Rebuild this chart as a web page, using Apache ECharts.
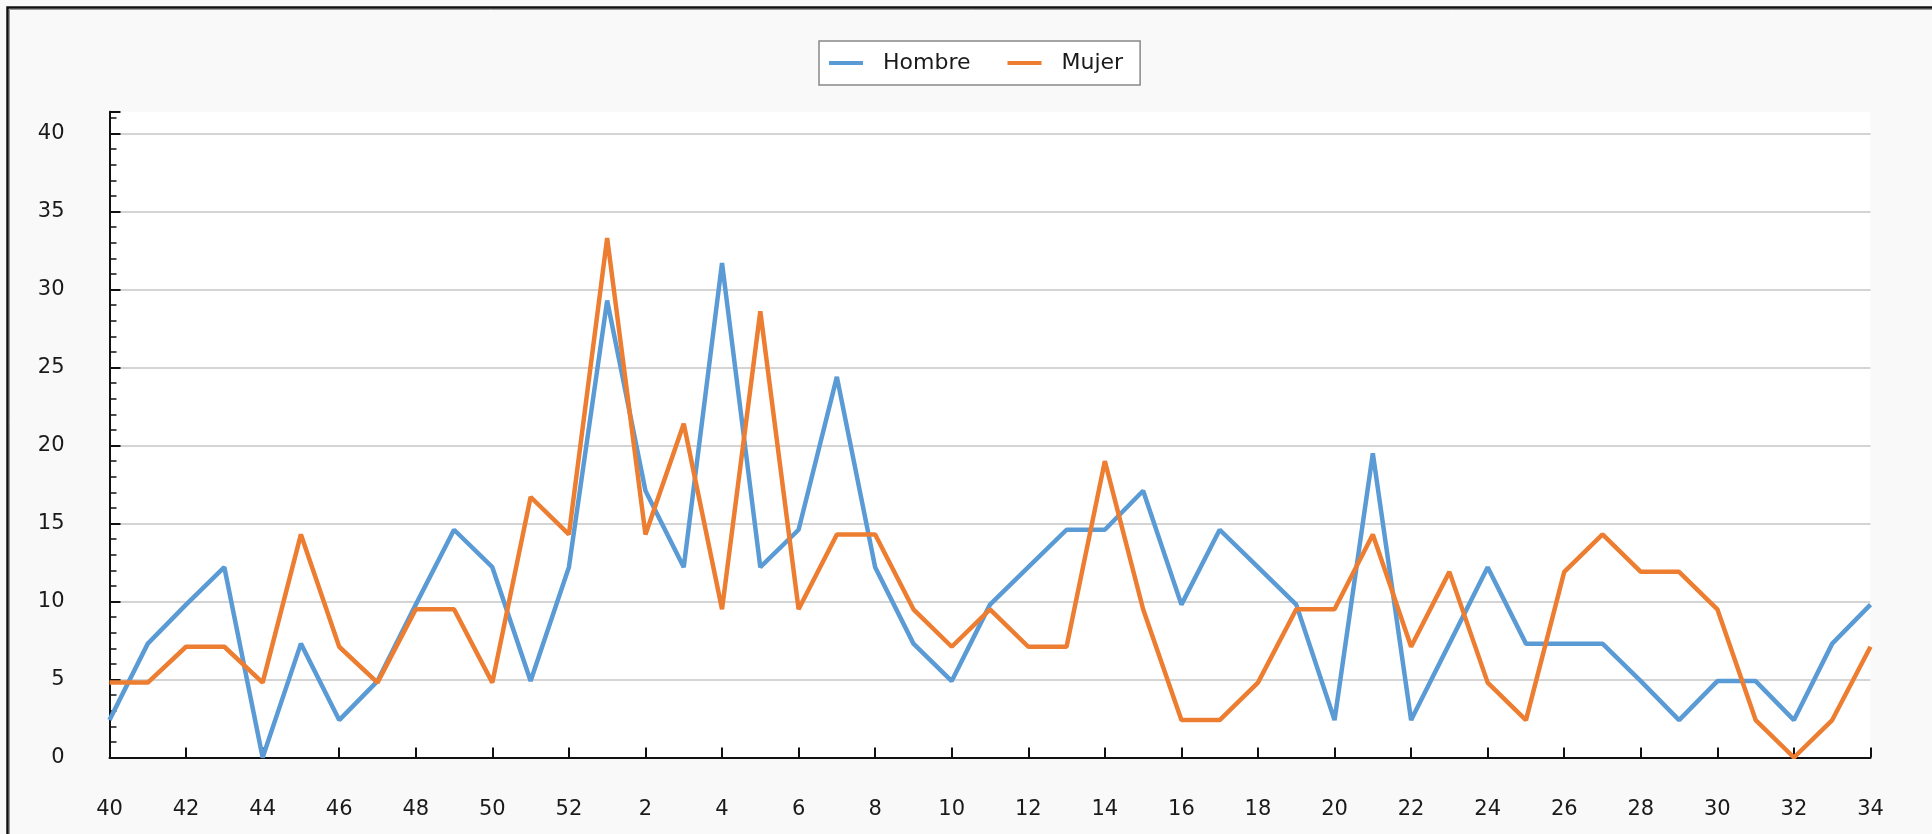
<!DOCTYPE html>
<html>
<head>
<meta charset="utf-8">
<script src="https://cdn.jsdelivr.net/npm/echarts@6/dist/echarts.min.js"></script>
<style>
	html, body { margin: 0; padding: 0; background: #f9f9f9; }
	#ct1 { width: 1932px; height: 834px; }
</style>
</head>
<body>
<div id="ct1"></div>
<script>
// semanas (40..52 del año anterior, 1..34)
var semanas = ['40','41','42','43','44','45','46','47','48','49','50','51','52',
	'1','2','3','4','5','6','7','8','9','10','11','12','13','14','15','16','17',
	'18','19','20','21','22','23','24','25','26','27','28','29','30','31','32','33','34'];

var hombre = [2.4, 7.3, 9.8, 12.2, 0, 7.3, 2.4, 4.9, 9.8, 14.6, 12.2, 4.9, 12.2,
	29.3, 17.1, 12.2, 31.7, 12.2, 14.6, 24.4, 12.2, 7.3, 4.9, 9.8, 12.2, 14.6, 14.6,
	17.1, 9.8, 14.6, 12.2, 9.8, 2.4, 19.5, 2.4, 7.3, 12.2, 7.3, 7.3, 7.3, 4.9, 2.4,
	4.9, 4.9, 2.4, 7.3, 9.8];

var mujer = [4.8, 4.8, 7.1, 7.1, 4.8, 14.3, 7.1, 4.8, 9.5, 9.5, 4.8, 16.7, 14.3,
	33.3, 14.3, 21.4, 9.5, 28.6, 9.5, 14.3, 14.3, 9.5, 7.1, 9.5, 7.1, 7.1, 19.0,
	9.5, 2.4, 2.4, 4.8, 9.5, 9.5, 14.3, 7.1, 11.9, 4.8, 2.4, 11.9, 14.3, 11.9, 11.9,
	9.5, 2.4, 0, 2.4, 7.1];

var fontFam = 'DejaVu Sans';
var myChart1;

var option1 = {
	backgroundColor: '#f9f9f9',
	animation: false,
	textStyle: { fontFamily: fontFam },
	graphic: [{
		type: 'rect',
		shape: { x: 7.5, y: 7.5, width: 2000, height: 1000 },
		style: { fill: 'none', stroke: '#111', lineWidth: 2.5 },
		z: 100
	}, {
		type: 'rect',
		shape: { x: 9.5, y: 9.5, width: 2000, height: 1000 },
		style: { fill: 'none', stroke: '#999', lineWidth: 1 },
		z: 100
	}],
	legend: {
		left: 819,
		top: 41,
		padding: [9, 17, 9, 10],
		backgroundColor: '#fff',
		borderColor: '#888',
		borderWidth: 1.5,
		borderRadius: 0,
		icon: 'rect',
		itemWidth: 34,
		itemHeight: 4,
		itemGap: 37,
		textStyle: { fontFamily: fontFam, fontSize: 22, lineHeight: 26, color: '#1a1a1a', padding: [0, 0, 0, 15] },
		data: ['Hombre', 'Mujer']
	},
	grid: {
		left: 109.5,
		right: 61.5,
		top: 111.7,
		bottom: 76.5,
		show: true,
		backgroundColor: '#fff',
		borderWidth: 0,
		containLabel: false
	},
	xAxis: {
		type: 'category',
		data: semanas,
		boundaryGap: false,
		axisLine: { show: true, lineStyle: { color: '#111', width: 2 } },
		axisTick: { show: true, inside: true, length: 10, interval: 1, lineStyle: { color: '#111', width: 2 } },
		axisLabel: { interval: 1, margin: 42, fontSize: 21, color: '#1a1a1a', fontFamily: fontFam },
		splitLine: { show: false }
	},
	yAxis: {
		type: 'value',
		min: 0,
		max: 41.4,
		interval: 5,
		axisLine: { show: true, lineStyle: { color: '#111', width: 2 } },
		axisTick: { show: true, inside: true, length: 11, lineStyle: { color: '#111', width: 2 } },
		minorTick: { show: true, splitNumber: 5, length: 7, lineStyle: { color: '#111', width: 1.5 } },
		axisLabel: { margin: 45, fontSize: 21, color: '#1a1a1a', fontFamily: fontFam, showMaxLabel: false },
		splitLine: { show: true, showMaxLine: false, lineStyle: { color: '#d4d4d4', width: 2 } }
	},
	series: [{
		name: 'Hombre',
		type: 'line',
		data: hombre,
		symbol: 'none',
		color: '#5b9bd5',
		lineStyle: { width: 4.5, color: '#5b9bd5' },
		z: 2
	}, {
		name: 'Mujer',
		type: 'line',
		data: mujer,
		symbol: 'none',
		color: '#ed7d31',
		lineStyle: { width: 4.5, color: '#ed7d31' },
		z: 3
	}]
};

function initMyChar1() {
	if (myChart1 && myChart1.dispose) {
		myChart1.dispose();
	}
	myChart1 = echarts.init(document.getElementById('ct1'));
	window.onresize = myChart1.resize;
	myChart1.setOption(option1, true);
}

initMyChar1();
</script>
</body>
</html>
